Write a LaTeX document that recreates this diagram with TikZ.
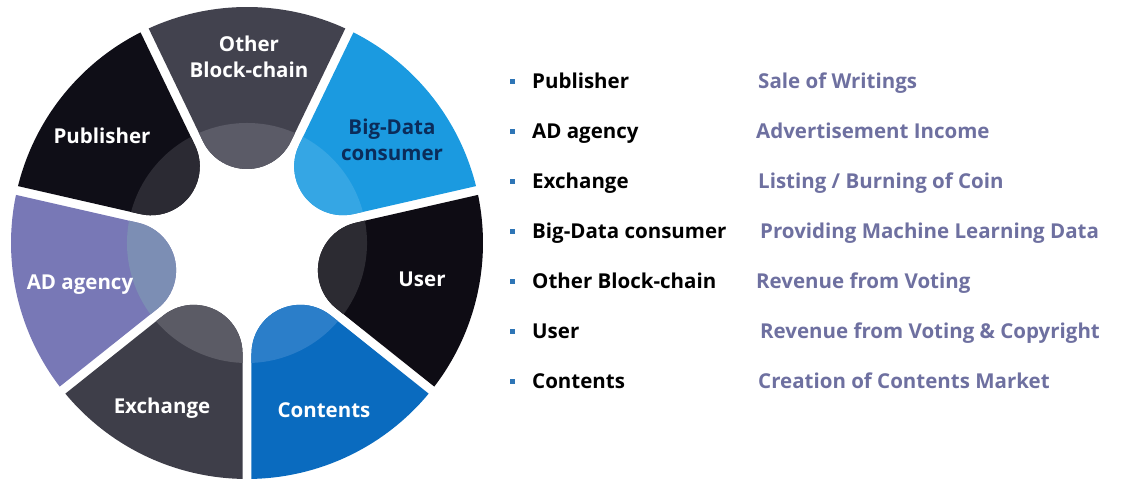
\documentclass[tikz,border=0pt]{standalone}
\usepackage{fontspec}
\setmainfont{Open Sans}
\usepackage{tikz}
\usetikzlibrary{math,calc}
\usepackage{xcolor}

\definecolor{pubout}{HTML}{0F0E17}
\definecolor{pubin}{HTML}{2B2A33}
\definecolor{othout}{HTML}{42424E}
\definecolor{othin}{HTML}{5B5B67}
\definecolor{bigout}{HTML}{1B9AE0}
\definecolor{bigin}{HTML}{35A6E4}
\definecolor{bigtext}{HTML}{0B2C5A}
\definecolor{userout}{HTML}{0E0C14}
\definecolor{userin}{HTML}{2C2B32}
\definecolor{contout}{HTML}{0A6BBF}
\definecolor{contin}{HTML}{2B7EC9}
\definecolor{exout}{HTML}{3E3E49}
\definecolor{exin}{HTML}{5B5B65}
\definecolor{adout}{HTML}{7878B6}
\definecolor{adin}{HTML}{7C8EB4}
\definecolor{bullet}{HTML}{2E75B6}
\definecolor{gain}{HTML}{6E70A0}

\newcommand{\tabpath}{(24.62:236) -- (101.6,44.0) arc[start angle=115.71,end angle=244.29,radius=48.8] -- (-24.62:236) arc[start angle=-24.62,end angle=24.62,radius=236] -- cycle}
\newcommand{\ringseg}[3]{%
  \begin{scope}[shift={(247,238)},rotate=#1]
    \fill[#2] \tabpath;
    \begin{scope}
      \clip (0,0) circle[radius=120];
      \fill[#3] \tabpath;
    \end{scope}
  \end{scope}}

\tikzset{
  seglabel/.style={text=white,font=\fontsize{20.5}{25.5}\selectfont\bfseries,align=center,inner sep=0pt},
  actor/.style={anchor=base west,font=\fontsize{20.5}{22}\selectfont\bfseries,text=black,inner sep=0pt},
  gain/.style={anchor=base west,font=\fontsize{20.5}{22}\selectfont\bfseries,text=gain,inner sep=0pt},
  dot/.style={fill=bullet,minimum size=5pt,inner sep=0pt}
}

\begin{document}
\begin{tikzpicture}[x=1pt,y=1pt]
            \useasboundingbox (0,0) rectangle (1121,481);
            \ringseg{90}{othout}{othin}
            \ringseg{141.43}{pubout}{pubin}
            \ringseg{192.86}{adout}{adin}
            \ringseg{244.29}{exout}{exin}
            \ringseg{295.71}{contout}{contin}
            \ringseg{347.14}{userout}{userin}
            \ringseg{38.57}{bigout}{bigin}
            \node[seglabel] (other) at (249,424) {Other\\Block-chain};
            \node[seglabel,text=bigtext] (bigdata) at (392,341) {Big-Data\\consumer};
            \node[seglabel] (publisher) at (102,345) {Publisher};
            \node[seglabel] (adagency) at (80,196) {AD agency};
            \node[seglabel] (user) at (422,202) {User};
            \node[seglabel] (exchange) at (162,73) {Exchange};
            \node[seglabel] (contents) at (324,71) {Contents};
            \node[dot] (b1) at (512,399) {};
            \node[dot] (b2) at (512,349) {};
            \node[dot] (b3) at (512,299) {};
            \node[dot] (b4) at (512,249) {};
            \node[dot] (b5) at (512,199) {};
            \node[dot] (b6) at (512,149) {};
            \node[dot] (b7) at (512,99) {};
            \node[actor] (a1) at (532,392) {Publisher};
            \node[actor] (a2) at (532,342) {AD agency};
            \node[actor] (a3) at (532,292) {Exchange};
            \node[actor] (a4) at (532,242) {Big-Data consumer};
            \node[actor] (a5) at (532,192) {Other Block-chain};
            \node[actor] (a6) at (532,142) {User};
            \node[actor] (a7) at (532,92) {Contents};
            \node[gain] (g1) at (758,392) {Sale of Writings};
            \node[gain] (g2) at (756,342) {Advertisement Income};
            \node[gain] (g3) at (758,292) {Listing / Burning of Coin};
            \node[gain] (g4) at (760,242) {Providing Machine Learning Data};
            \node[gain] (g5) at (756,192) {Revenue from Voting};
            \node[gain] (g6) at (760,142) {Revenue from Voting \& Copyright};
            \node[gain] (g7) at (758,92) {Creation of Contents Market};
        \end{tikzpicture}
\end{document}
